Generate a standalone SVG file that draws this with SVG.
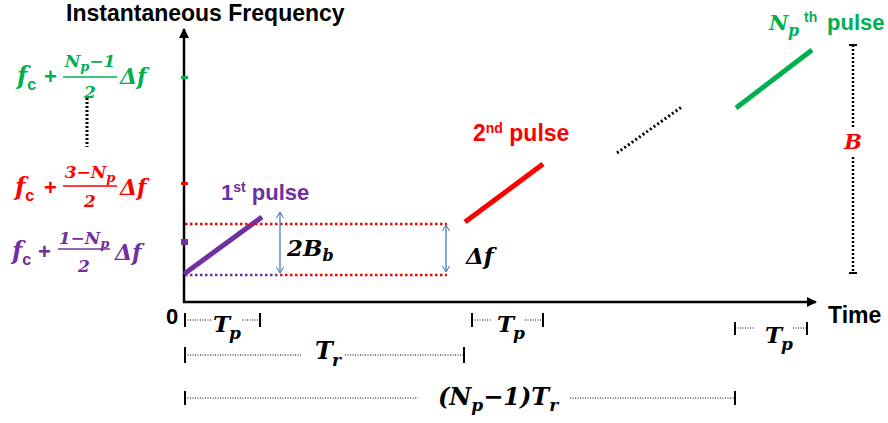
<svg xmlns="http://www.w3.org/2000/svg" width="888" height="423" viewBox="0 0 888 423">
<style>
.sans{font-family:"Liberation Sans",Arial,sans-serif;font-weight:bold}
.math{font-family:"DejaVu Serif","Liberation Serif",serif;font-weight:bold;font-style:italic}
.up{font-style:normal}
.g{fill:#00B050}.r{fill:#FF0000}.p{fill:#7030A0}.k{fill:#000}
.axis{stroke:#000;stroke-width:2.5;fill:none}
.dim{stroke:#000;stroke-width:1;stroke-dasharray:1 1.5;fill:none}
.bar{stroke:#000;stroke-width:2;fill:none}
.blue{stroke:#4A7EBB;stroke-width:1.3;fill:none;marker-start:url(#chev);marker-end:url(#chev)}
</style>
<defs>
<marker id="ah" viewBox="0 0 10 10" refX="9" refY="5" markerWidth="4" markerHeight="4" orient="auto" markerUnits="strokeWidth">
<path d="M0,0 L10,5 L0,10 Z" fill="#000"/>
</marker>
<marker id="chev" viewBox="0 0 10 10" refX="9.5" refY="5" markerWidth="8" markerHeight="8" orient="auto-start-reverse" markerUnits="userSpaceOnUse">
<path d="M2,0.5 L9.5,5 L2,9.5" fill="none" stroke="#4A7EBB" stroke-width="1.3"/>
</marker>
</defs>

<g id="axes">
<line class="axis" x1="184" y1="303" x2="184" y2="29" marker-end="url(#ah)"/>
<line class="axis" x1="183" y1="302" x2="816" y2="302" marker-end="url(#ah)"/>
<rect x="181" y="76" width="7" height="3" fill="#00B050"/>
<rect x="181" y="182" width="7" height="3" fill="#FF0000"/>
<rect x="181" y="239" width="7" height="6" fill="#7030A0"/>
<text class="sans k" x="66" y="21" font-size="23">Instantaneous Frequency</text>
<text class="sans k" x="828" y="323" font-size="23">Time</text>
<text class="sans k" x="166" y="324" font-size="22">0</text>
</g>

<g id="label-green">
<text class="math g" x="17" y="84" font-size="24">f<tspan class="up sans" font-size="16" dy="6">c</tspan></text>
<text class="sans g" x="44" y="84" font-size="22">+</text>
<text class="math g" x="90" y="67" font-size="17" text-anchor="middle">N<tspan font-size="13" dy="4">p</tspan><tspan dy="-4">−1</tspan></text>
<line x1="63" y1="77" x2="117" y2="77" stroke="#00B050" stroke-width="1.5"/>
<text class="math g" x="90" y="98" font-size="17" text-anchor="middle">2</text>
<text class="math g" x="120" y="84" font-size="22">Δf</text>
</g>

<g id="label-red">
<text class="math r" x="15" y="195" font-size="24">f<tspan class="up sans" font-size="16" dy="6">c</tspan></text>
<text class="sans r" x="44" y="195" font-size="22">+</text>
<text class="math r" x="90" y="178" font-size="17" text-anchor="middle">3−N<tspan font-size="13" dy="4">p</tspan></text>
<line x1="63" y1="186" x2="117" y2="186" stroke="#FF0000" stroke-width="1.5"/>
<text class="math r" x="90" y="207" font-size="17" text-anchor="middle">2</text>
<text class="math r" x="120" y="195" font-size="22">Δf</text>
</g>

<g id="label-purple">
<text class="math p" x="12" y="259" font-size="24">f<tspan class="up sans" font-size="16" dy="6">c</tspan></text>
<text class="sans p" x="38" y="259" font-size="22">+</text>
<text class="math p" x="84" y="244" font-size="17" text-anchor="middle">1−N<tspan font-size="13" dy="4">p</tspan></text>
<line x1="58" y1="249" x2="110" y2="249" stroke="#7030A0" stroke-width="1.5"/>
<text class="math p" x="84" y="272" font-size="17" text-anchor="middle">2</text>
<text class="math p" x="115" y="260" font-size="22">Δf</text>
</g>

<g id="label-dots">
<line x1="87" y1="98" x2="87" y2="147" stroke="#000" stroke-width="3" stroke-dasharray="2 2"/>
</g>

<g id="pulse1">
<line x1="184" y1="274" x2="262" y2="217" stroke="#7030A0" stroke-width="5"/>
<text class="sans p" x="221" y="200" font-size="22">1<tspan font-size="14" dy="-8">st</tspan><tspan dy="8"> pulse</tspan></text>
</g>

<g id="pulse2">
<line x1="465" y1="222" x2="543" y2="164" stroke="#FF0000" stroke-width="5"/>
<text class="sans r" x="473" y="141" font-size="23">2<tspan font-size="14" dy="-8">nd</tspan><tspan dy="8"> pulse</tspan></text>
</g>

<g id="pulseN">
<line x1="736" y1="108" x2="812" y2="50" stroke="#00B050" stroke-width="5"/>
<text class="math g" x="769" y="30" font-size="21">N</text>
<text class="math g" x="788" y="36" font-size="16">p</text>
<text class="sans g" x="804" y="22" font-size="14">th</text>
<text class="sans g" x="827" y="30" font-size="22">pulse</text>
</g>

<g id="connectors">
<line x1="617" y1="153" x2="683" y2="106" stroke="#000" stroke-width="3" stroke-dasharray="2 2.5"/>
<line x1="185" y1="224" x2="447" y2="224" stroke="#FF0000" stroke-width="2.5" stroke-dasharray="2.5 2.5"/>
<line x1="185" y1="275" x2="280" y2="275" stroke="#7030A0" stroke-width="2.5" stroke-dasharray="2.5 2.5"/>
<line x1="280" y1="275" x2="447" y2="275" stroke="#FF0000" stroke-width="2.5" stroke-dasharray="2.5 2.5"/>
<line class="blue" x1="280" y1="212" x2="280" y2="273"/>
<line class="blue" x1="446" y1="225" x2="446" y2="272"/>
<line x1="853" y1="45" x2="853" y2="129" stroke="#000" stroke-width="2.5" stroke-dasharray="2 2"/>
<line x1="853" y1="157" x2="853" y2="273" stroke="#000" stroke-width="2.5" stroke-dasharray="2 2"/>
<line x1="849" y1="45" x2="857" y2="45" stroke="#000" stroke-width="2"/>
<line x1="849" y1="273" x2="857" y2="273" stroke="#000" stroke-width="2"/>
</g>

<g id="annotations">
<text class="math k" x="287" y="256" font-size="23">2B<tspan font-size="16" dy="5">b</tspan></text>
<text class="math k" x="466" y="264" font-size="23">Δf</text>
<text class="math r" x="853" y="149" font-size="21" text-anchor="middle">B</text>
</g>

<g id="dim-tp1">
<line class="bar" x1="185" y1="313" x2="185" y2="327"/>
<line class="dim" x1="185" y1="320" x2="211" y2="320"/>
<text class="math k" x="213" y="332" font-size="23">T</text>
<text class="math k" x="229" y="339" font-size="17">p</text>
<line class="dim" x1="242" y1="320" x2="260" y2="320"/>
<line class="bar" x1="260" y1="313" x2="260" y2="327"/>
</g>
<g id="dim-tp2">
<line class="bar" x1="472" y1="313" x2="472" y2="327"/>
<line class="dim" x1="472" y1="320" x2="492" y2="320"/>
<text class="math k" x="497" y="332" font-size="23">T</text>
<text class="math k" x="513" y="339" font-size="17">p</text>
<line class="dim" x1="525" y1="320" x2="543" y2="320"/>
<line class="bar" x1="543" y1="313" x2="543" y2="327"/>
</g>
<g id="dim-tp3">
<line class="bar" x1="735" y1="322" x2="735" y2="335"/>
<line class="dim" x1="735" y1="328" x2="755" y2="328"/>
<text class="math k" x="765" y="343" font-size="23">T</text>
<text class="math k" x="781" y="350" font-size="17">p</text>
<line class="dim" x1="793" y1="328" x2="807" y2="328"/>
<line class="bar" x1="807" y1="322" x2="807" y2="335"/>
</g>
<g id="dim-tr">
<line class="bar" x1="185" y1="347" x2="185" y2="363"/>
<line class="dim" x1="185" y1="355" x2="302" y2="355"/>
<text class="math k" x="315" y="359" font-size="24">T</text>
<text class="math k" x="332" y="366" font-size="17">r</text>
<line class="dim" x1="345" y1="355" x2="464" y2="355"/>
<line class="bar" x1="464" y1="347" x2="464" y2="363"/>
</g>
<g id="dim-ntr">
<line class="bar" x1="185" y1="391" x2="185" y2="405"/>
<line class="dim" x1="185" y1="398" x2="418" y2="398"/>
<text class="math k" x="438" y="405" font-size="24">(N<tspan font-size="17" dy="6">p</tspan><tspan dy="-6">−1)T</tspan><tspan font-size="17" dy="6">r</tspan></text>
<line class="dim" x1="570" y1="398" x2="735" y2="398"/>
<line class="bar" x1="735" y1="391" x2="735" y2="405"/>
</g>
</svg>
